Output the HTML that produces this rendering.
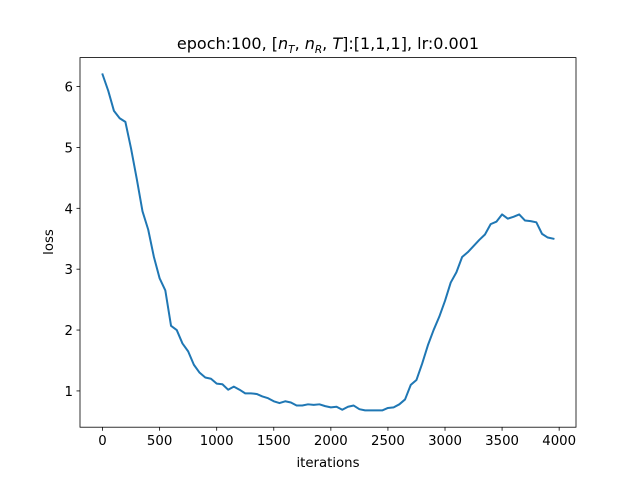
<!DOCTYPE html>
<html><head><meta charset="utf-8"><style>
body{margin:0;background:#fff}
svg text{font-family:"DejaVu Sans","Liberation Sans",sans-serif;fill:#000}
</style></head><body>
<svg id="chart" width="640" height="480" viewBox="0 0 640 480" xmlns="http://www.w3.org/2000/svg">
<rect width="640" height="480" fill="#fff"/>
<text x="328" y="49" font-size="16" text-anchor="middle">epoch:100, [<tspan font-style="italic">n</tspan><tspan font-style="italic" font-size="10.5" dy="4">T</tspan><tspan dy="-4">, </tspan><tspan font-style="italic">n</tspan><tspan font-style="italic" font-size="10.5" dy="4">R</tspan><tspan dy="-4">, </tspan><tspan font-style="italic">T</tspan>]:[1,1,1], lr:0.001</text>
<g id="plot"></g>
<rect x="80" y="57.6" width="496" height="369.6" fill="none" stroke="#000" stroke-width="0.8"/>
<text x="328" y="467" font-size="13.3" text-anchor="middle">iterations</text>
<text x="0" y="0" font-size="13.3" text-anchor="middle" transform="translate(53,242) rotate(-90)">loss</text>
</svg>
<script>
const iterations = [];
for (let i = 0; i < 80; i++) iterations.push(i * 50);
const loss = [6.2,5.93,5.6,5.48,5.42,4.98,4.48,3.95,3.65,3.2,2.85,2.65,2.07,2.0,1.78,1.65,1.43,1.3,1.22,1.2,1.12,1.11,1.02,1.07,1.02,0.96,0.96,0.95,0.91,0.88,0.83,0.80,0.83,0.81,0.76,0.76,0.78,0.77,0.78,0.75,0.73,0.74,0.69,0.74,0.76,0.70,0.68,0.68,0.68,0.68,0.72,0.73,0.78,0.86,1.1,1.18,1.45,1.75,2.0,2.22,2.48,2.78,2.95,3.2,3.28,3.38,3.48,3.57,3.74,3.78,3.9,3.83,3.86,3.9,3.8,3.79,3.77,3.58,3.52,3.5];
const xTicks = [0,500,1000,1500,2000,2500,3000,3500,4000];
const yTicks = [1,2,3,4,5,6];
const NS = "http://www.w3.org/2000/svg";
const L=80,R=576,T=57.6,B=427.2;
const xmn=Math.min(...iterations),xmx=Math.max(...iterations);
const ymn=Math.min(...loss),ymx=Math.max(...loss);
const x0=xmn-(xmx-xmn)*0.05,x1=xmx+(xmx-xmn)*0.05;
const y0=ymn-(ymx-ymn)*0.05,y1=ymx+(ymx-ymn)*0.05;
const sx=v=>L+(v-x0)/(x1-x0)*(R-L);
const sy=v=>B-(v-y0)/(y1-y0)*(B-T);
const g=document.getElementById('plot');
function mk(t,a){const e=document.createElementNS(NS,t);for(const k in a)e.setAttribute(k,a[k]);g.appendChild(e);return e;}
xTicks.forEach(v=>{
  const l=mk('line',{x1:sx(v),x2:sx(v),y1:B,y2:B+3.5,stroke:'#000','stroke-width':0.8});
  
  
  const t=mk('text',{x:sx(v),y:B+18,'font-size':13.3,'text-anchor':'middle'});
  t.textContent=v;
  
  
});
yTicks.forEach(v=>{
  const l=mk('line',{x1:L-3.5,x2:L,y1:sy(v),y2:sy(v),stroke:'#000','stroke-width':0.8});
  
  
  const t=mk('text',{x:L-7,y:sy(v)+5,'font-size':13.3,'text-anchor':'end'});
  t.textContent=v;
  
  
});
const p=mk('polyline',{points:iterations.map((v,i)=>sx(v)+','+sy(loss[i])).join(' '),fill:'none',stroke:'#1f77b4','stroke-width':2,'stroke-linejoin':'round','stroke-linecap':'square'});


</script>
</body></html>
